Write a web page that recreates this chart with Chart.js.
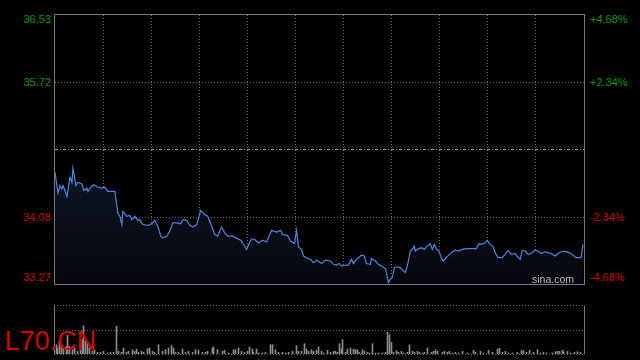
<!DOCTYPE html>
<html>
<head>
<meta charset="utf-8">
<script src="https://cdn.jsdelivr.net/npm/chart.js@4.4.0/dist/chart.umd.min.js"></script>
<style>
  html, body { margin: 0; padding: 0; background: #000; }
  #wrap { position: relative; width: 640px; height: 360px; overflow: hidden; background: #000; }
  #priceCanvas { position: absolute; left: 0; top: 0; }
  #volCanvas { position: absolute; left: 0; top: 290px; }
</style>
</head>
<body>
<div id="wrap">
  <canvas id="priceCanvas" width="640" height="300"></canvas>
  <canvas id="volCanvas" width="640" height="70"></canvas>
</div>
<script>
var stockCode = 'L70.CN';
var prevClose = 34.90;
var priceMin = 33.27, priceMax = 36.53;
var leftTicks = [36.53, 35.715, 34.90, 34.085, 33.27];
var leftLabels = ['36.53', '35.72', '', '34.08', '33.27'];
var rightLabels = ['+4.68%', '+2.34%', '', '-2.34%', '-4.68%'];
var sessionLength = 530;
var gridColumns = 11;

var minutes = [0,3,5,7,8,10,12,15,17,18,21,23,27,29,32,33,36,39,43,47,50,53,60,63,65,67,68,72,75,77,
  80,83,85,88,93,97,100,103,106,108,112,115,118,122,126,128,132,135,138,142,146,150,153,157,160,163,165,167,170,173,
  178,183,186,190,192,194,197,200,204,208,212,217,222,226,228,233,236,240,242,244,247,249,253,256,259,262,265,267,271,276,
  279,282,285,287,291,294,297,299,302,307,310,312,316,317,321,324,327,331,332,334,336,338,340,342,346,349,351,353,356,358,
  360,361,363,367,370,372,376,378,380,382,385,387,389,392,397,401,404,408,412,417,422,425,427,431,433,436,439,441,444,448,
  451,454,457,461,464,466,468,471,474,477,481,484,487,491,494,497,501,505,509,513,517,522,527,529];

var prices = [34.63,34.38,34.47,34.43,34.47,34.41,34.34,34.57,34.51,34.68,34.47,34.51,34.49,34.41,34.44,34.40,34.45,34.48,34.45,34.44,
  34.45,34.40,34.40,34.14,34.10,34.00,34.16,34.10,34.11,34.06,34.10,34.05,34.06,34.00,33.99,34.01,34.05,33.98,33.86,33.84,
  33.86,33.92,34.02,34.02,34.01,34.06,34.05,33.99,33.97,34.00,34.17,34.12,34.10,33.98,33.88,33.86,33.92,33.97,33.90,33.86,
  33.86,33.83,33.81,33.74,33.70,33.76,33.83,33.82,33.78,33.81,33.79,33.93,33.91,33.93,33.88,33.87,33.80,33.77,33.93,33.73,
  33.70,33.62,33.59,33.58,33.54,33.57,33.55,33.53,33.57,33.56,33.52,33.51,33.53,33.50,33.51,33.51,33.58,33.53,33.58,33.63,
  33.62,33.53,33.52,33.59,33.56,33.52,33.50,33.47,33.42,33.30,33.34,33.36,33.48,33.49,33.48,33.44,33.42,33.50,33.68,33.70,
  33.74,33.68,33.70,33.72,33.70,33.73,33.77,33.70,33.76,33.71,33.67,33.60,33.56,33.60,33.66,33.69,33.68,33.70,33.71,33.71,
  33.71,33.77,33.76,33.78,33.81,33.76,33.73,33.66,33.60,33.60,33.64,33.69,33.64,33.65,33.60,33.58,33.69,33.68,33.64,33.65,
  33.69,33.68,33.65,33.67,33.66,33.65,33.62,33.66,33.68,33.67,33.65,33.60,33.60,33.76];

var volMinutes = [2,3,5,7,9,12,13,15,18,20,23,26,28,29,31,33,35,38,40,43,46,49,53,56,59,62,64,67,69,72,
  74,78,80,82,84,87,89,93,95,98,100,104,108,111,114,117,119,121,124,128,131,134,138,141,144,148,151,153,158,159,
  163,168,170,174,179,181,184,187,190,193,195,198,199,202,204,208,211,216,218,221,224,228,231,234,238,242,244,247,250,252,
  254,257,259,262,264,267,269,273,276,279,281,283,285,287,288,291,293,296,299,301,303,305,308,310,313,315,318,321,324,328,
  331,333,335,337,339,342,344,347,349,353,355,358,360,363,365,368,370,373,377,379,381,383,388,390,393,395,398,401,404,408,
  413,419,421,426,429,434,438,443,445,448,451,454,458,463,467,469,472,475,479,483,486,489,492,498,501,503,505,508,509,513,
  516,520,523,526];

var volumes = [930,600,1270,930,600,770,1870,770,430,600,270,1100,1430,2830,1270,1170,600,270,430,170,170,270,100,170,170,2770,270,170,600,170,
  270,430,270,500,170,270,170,500,600,270,170,930,270,430,600,830,600,170,170,500,170,270,170,430,370,170,170,270,600,700,
  430,270,370,100,430,430,600,270,170,270,700,500,170,500,100,100,170,930,930,430,170,170,100,170,270,830,270,270,1030,500,
  270,430,270,370,700,270,100,370,170,270,270,170,1030,500,1430,170,500,600,500,430,430,170,430,270,170,100,1030,100,100,100,
  170,2170,1930,1170,170,330,170,270,100,170,930,270,170,270,170,100,170,600,170,270,430,270,170,270,170,270,100,170,100,270,
  100,370,170,270,100,370,170,500,570,170,270,100,100,170,370,330,170,370,170,430,100,170,100,100,230,270,270,370,230,270,
  100,170,230,170];
var volMax = 4900;

var lineColor = '#4a86e0';
var upColor = '#00a000';
var downColor = '#e00000';
var gridColor = '#6a6a6a';
var frameColor = '#777777';

function pairs(xs, ys) {
  return xs.map(function (x, i) { return { x: x, y: ys[i] }; });
}

function interiorColor(ctx) {
  var last = ctx.scale.ticks.length - 1;
  if (ctx.index === 0 || ctx.index === last) return 'transparent';
  if (ctx.tick && ctx.tick.value === prevClose) return 'transparent';
  return gridColor;
}

var priceDecor = {
  id: 'priceDecor',
  afterDraw: function (chart) {
    var ctx = chart.ctx, ca = chart.chartArea, ys = chart.scales.y;
    ctx.save();
    // prev close line
    var my = Math.round(ys.getPixelForValue(prevClose)) - 0.5;
    ctx.strokeStyle = '#a0a0a0';
    ctx.lineWidth = 1;
    ctx.setLineDash([3, 2, 1, 2]);
    ctx.beginPath(); ctx.moveTo(ca.left, my); ctx.lineTo(ca.right, my); ctx.stroke();
    // frame
    ctx.setLineDash([]);
    ctx.strokeStyle = frameColor;
    ctx.strokeRect(ca.left - 0.5, ca.top - 0.5, ca.right - ca.left + 1, ca.bottom - ca.top);
    // axis labels
    ctx.font = '11px "Liberation Sans", Arial, sans-serif';
    ctx.textBaseline = 'middle';
    leftTicks.forEach(function (v, i) {
      if (!leftLabels[i]) return;
      var y = ys.getPixelForValue(v);
      y = Math.min(Math.max(y, ca.top + 5), ca.bottom - 7);
      ctx.fillStyle = v > prevClose ? upColor : downColor;
      ctx.textAlign = 'right';
      ctx.fillText(leftLabels[i], ca.left - 4, y);
      ctx.textAlign = 'left';
      ctx.fillText(rightLabels[i], ca.right + 6, y);
    });
    // watermark
    ctx.font = '10.5px "Liberation Sans", Arial, sans-serif';
    ctx.textBaseline = 'alphabetic';
    ctx.textAlign = 'left';
    ctx.fillStyle = '#b8b8b8';
    ctx.fillText('sina.com', ca.right - 52, ca.bottom - 2);
    ctx.restore();
  }
};

var volDecor = {
  id: 'volDecor',
  beforeDatasetsDraw: function (chart) {
    var ctx = chart.ctx, ca = chart.chartArea, ys = chart.scales.y;
    ctx.save();
    ctx.lineWidth = 1;
    ctx.strokeStyle = gridColor;
    ctx.setLineDash([1, 2]);
    [volMax, volMax / 2, 0].forEach(function (v) {
      var y = Math.round(ys.getPixelForValue(v)) + 0.5;
      ctx.beginPath(); ctx.moveTo(ca.left, y); ctx.lineTo(ca.right, y); ctx.stroke();
    });
    ctx.setLineDash([]);
    ctx.strokeStyle = frameColor;
    var top = Math.round(ys.getPixelForValue(volMax)) + 0.5;
    var bot = Math.round(ys.getPixelForValue(0)) + 0.5;
    ctx.beginPath();
    ctx.moveTo(ca.left + 0.5, top); ctx.lineTo(ca.left + 0.5, bot);
    ctx.moveTo(ca.right + 0.5, top); ctx.lineTo(ca.right + 0.5, bot);
    ctx.stroke();
    ctx.restore();
  },
  afterDraw: function (chart) {
    var ctx = chart.ctx;
    ctx.save();
    ctx.font = '27px "Liberation Sans", Arial, sans-serif';
    ctx.fillStyle = downColor;
    ctx.textAlign = 'left';
    ctx.textBaseline = 'alphabetic';
    ctx.fillText(stockCode, 5, 60);
    ctx.restore();
  }
};

new Chart(document.getElementById('priceCanvas'), {
  type: 'line',
  data: {
    datasets: [{
      data: pairs(minutes, prices),
      borderColor: lineColor,
      borderWidth: 1.2,
      pointRadius: 0,
      tension: 0,
      fill: 'start',
      backgroundColor: function (c) {
        var ca = c.chart.chartArea;
        if (!ca) return '#0a1020';
        var g = c.chart.ctx.createLinearGradient(0, ca.top + 150, 0, ca.bottom);
        g.addColorStop(0, '#0d1526');
        g.addColorStop(1, '#05070c');
        return g;
      }
    }]
  },
  options: {
    responsive: false,
    animation: false,
    devicePixelRatio: 1,
    layout: { padding: { left: 55, right: 56, top: 15, bottom: 15 } },
    plugins: { legend: { display: false }, tooltip: { enabled: false } },
    scales: {
      x: {
        type: 'linear', min: 0, max: sessionLength,
        ticks: { display: false },
        grid: { color: interiorColor, drawTicks: false, lineWidth: 1 },
        border: { display: false, dash: [1, 2] },
        afterBuildTicks: function (s) {
          var t = [];
          for (var k = 0; k <= gridColumns; k++) t.push({ value: k * sessionLength / gridColumns });
          s.ticks = t;
        },
        afterFit: function (s) { s.height = 0; }
      },
      y: {
        min: priceMin, max: priceMax,
        ticks: { display: false },
        grid: { color: interiorColor, drawTicks: false, lineWidth: 1 },
        border: { display: false, dash: [1, 2] },
        afterBuildTicks: function (s) { s.ticks = leftTicks.map(function (v) { return { value: v }; }); },
        afterFit: function (s) { s.width = 0; }
      }
    }
  },
  plugins: [priceDecor]
});

// volume: half-minute offsets so each 1px bar lands on a whole pixel column
new Chart(document.getElementById('volCanvas'), {
  type: 'bar',
  data: {
    datasets: [{
      data: pairs(volMinutes, volumes),
      backgroundColor: '#8c8c8c',
      barThickness: 1
    }]
  },
  options: {
    responsive: false,
    animation: false,
    devicePixelRatio: 1,
    layout: { padding: { left: 54, right: 56, top: 15, bottom: 6 } },
    plugins: { legend: { display: false }, tooltip: { enabled: false } },
    scales: {
      x: {
        type: 'linear', min: -0.5, max: sessionLength - 0.5, offset: false,
        ticks: { display: false },
        grid: { display: false, offset: false },
        border: { display: false },
        afterFit: function (s) { s.height = 0; }
      },
      y: {
        min: 0, max: volMax,
        ticks: { display: false },
        grid: { display: false },
        border: { display: false },
        afterFit: function (s) { s.width = 0; }
      }
    }
  },
  plugins: [volDecor]
});
</script>
</body>
</html>
